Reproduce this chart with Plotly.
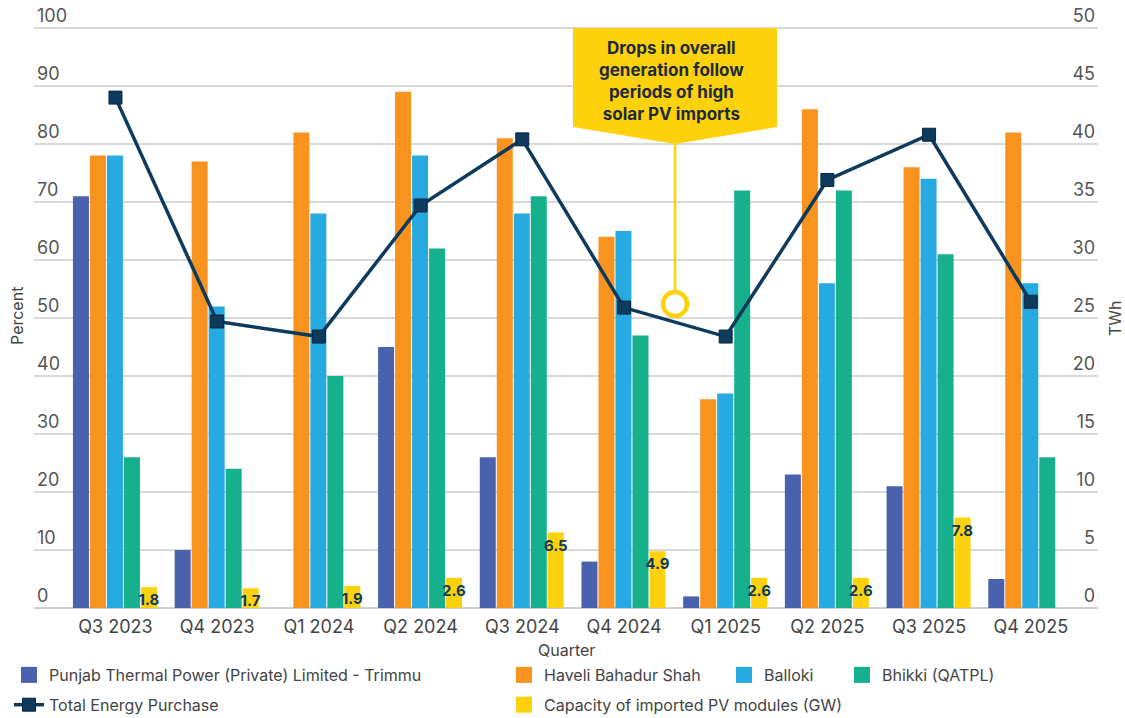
import plotly.graph_objects as go

quarters = ["Q3 2023", "Q4 2023", "Q1 2024", "Q2 2024", "Q3 2024",
            "Q4 2024", "Q1 2025", "Q2 2025", "Q3 2025", "Q4 2025"]
trimmu = [71, 10, 0, 45, 26, 8, 2, 23, 21, 5]
haveli = [78, 77, 82, 89, 81, 64, 36, 86, 76, 82]
balloki = [78, 52, 68, 78, 68, 65, 37, 56, 74, 56]
bhikki = [26, 24, 40, 62, 71, 47, 72, 72, 61, 26]
pv_capacity = [1.8, 1.7, 1.9, 2.6, 6.5, 4.9, 2.6, 2.6, 7.8, None]
total_energy = [44.0, 24.7, 23.4, 34.7, 40.4, 25.9, 23.4, 36.9, 40.8, 26.4]

names = ["Punjab Thermal Power (Private) Limited - Trimmu", "Haveli Bahadur Shah",
         "Balloki", "Bhikki (QATPL)"]
colors = ["#4a62ad", "#f7931e", "#27a9e1", "#17b08d"]
legends = ["legend", "legend2", "legend3", "legend4"]
YELLOW = "#fdd10b"
NAVY = "#0e3a5d"
PV_NAME = "Capacity of imported PV modules (GW)"

# pixel geometry: 0 at y=608, 100 at y=28, plot top at y=0
Y0, Y100 = 608, 28
ppu = (Y0 - Y100) / 100.0
T = 0
YMAX = (Y0 - T) / ppu
L, R, B = 34, 1098, Y0
W_PX, H_PX = R - L, B - T
def px(x):
    return (x - L) / W_PX
def py(y):
    return (B - y) / H_PX

cat_px = 101.7
bw = 16 / cat_px
pitch = 17 / cat_px
start = -42.5 / cat_px

fig = go.Figure()
for i, (vals, nm, col) in enumerate(zip([trimmu, haveli, balloki, bhikki], names, colors)):
    fig.add_trace(go.Bar(
        x=quarters, y=vals, name=nm, marker=dict(color=col, line=dict(width=0)),
        width=bw, offset=start + i * pitch, yaxis="y", showlegend=False,
    ))

fig.add_trace(go.Bar(
    x=quarters, y=pv_capacity, name=PV_NAME,
    marker=dict(color=YELLOW, line=dict(width=0)),
    width=bw, offset=start + 4 * pitch, yaxis="y2", showlegend=False,
    text=["" if v is None else f"{v}" for v in pv_capacity],
    textposition="inside", insidetextanchor="end", textangle=0,
    constraintext="none",
    insidetextfont=dict(family="Inter", size=15, color=NAVY, weight="bold"),
))

fig.add_trace(go.Scatter(
    x=quarters, y=total_energy, name="Total Energy Purchase", yaxis="y2",
    mode="lines+markers", line=dict(color=NAVY, width=3.5),
    marker=dict(symbol="square", size=13, color=NAVY, line=dict(color="#0a2740", width=1)),
    legend="legend", legendgroup="g6", legendrank=2,
))

# legend entries (square swatches like the reference)
for i, (nm, col, lg) in enumerate(zip(names, colors, legends)):
    fig.add_trace(go.Scatter(
        x=[None], y=[None], mode="markers", name=nm,
        marker=dict(symbol="square", size=18, color=col),
        legend=lg, legendgroup=f"g{i}", legendrank=1,
    ))
fig.add_trace(go.Scatter(
    x=[None], y=[None], mode="markers", name=PV_NAME,
    marker=dict(symbol="square", size=18, color=YELLOW),
    legend="legend2", legendgroup="g5", legendrank=2,
))

# callout
shapes = []
box = [(573, 28), (777, 28), (777, 127), (675, 144), (573, 127)]
path = "M " + " L ".join(f"{px(x):.5f},{py(y):.5f}" for x, y in box) + " Z"
shapes.append(dict(type="path", xref="paper", yref="paper", path=path,
                   fillcolor=YELLOW, line=dict(width=0), layer="above"))
shapes.append(dict(type="line", xref="paper", yref="paper",
                   x0=px(675), x1=px(675), y0=py(144), y1=py(291),
                   line=dict(color=YELLOW, width=2.5), layer="above"))
r = 12
shapes.append(dict(type="circle", xref="paper", yref="paper",
                   x0=px(675 - r), x1=px(675 + r), y0=py(304 + r), y1=py(304 - r),
                   fillcolor="white", line=dict(color=YELLOW, width=4.5), layer="above"))

annotations = [
    dict(text="Drops in overall<br>generation follow<br>periods of high<br>solar PV imports",
         xref="paper", yref="paper", x=px(671), y=py(81), showarrow=False,
         font=dict(family="Inter", size=17, color="#1e2b3c", weight="bold"),
         align="center", xanchor="center", yanchor="middle"),
    dict(text="Percent", xref="paper", yref="paper", x=px(17), y=py(316), textangle=-90,
         showarrow=False, font=dict(family="Inter", size=16, color="#444"),
         xanchor="center", yanchor="middle"),
    dict(text="TWh", xref="paper", yref="paper", x=px(1115), y=py(318), textangle=-90,
         showarrow=False, font=dict(family="Inter", size=16, color="#444"),
         xanchor="center", yanchor="middle"),
    dict(text="Quarter", xref="paper", yref="paper", x=0.5, y=py(650),
         showarrow=False, font=dict(family="Inter", size=16, color="#444"),
         xanchor="center", yanchor="middle"),
]

legfont = dict(family="Inter", size=16, color="#444")
def leg(xpx):
    return dict(x=px(xpx), y=py(658), xanchor="left", yanchor="top",
                orientation="v", bgcolor="rgba(0,0,0,0)", font=legfont,
                tracegroupgap=6, itemwidth=30)

fig.update_layout(
    width=1125, height=718,
    margin=dict(l=L, r=1125 - R, t=T, b=718 - B, autoexpand=False),
    paper_bgcolor="white", plot_bgcolor="white",
    barmode="overlay",
    font=dict(family="Inter", color="#444"),
    xaxis=dict(type="category", range=[-0.801, 9.661], showgrid=False,
               tickfont=dict(family="Inter", size=18, color="#444"),
               showline=False, ticks="", ticklabelstandoff=6),
    yaxis=dict(range=[0, YMAX], tickvals=list(range(0, 101, 10)), showgrid=True,
               gridcolor="#d9d9d9", gridwidth=1.5,
               zeroline=True, zerolinecolor="#cfcfcf", zerolinewidth=1.5,
               ticklabelposition="inside top",
               tickfont=dict(family="Inter", size=18, color="#555")),
    yaxis2=dict(range=[0, YMAX / 2], tickvals=list(range(0, 51, 5)), overlaying="y",
                side="right", showgrid=False,
                zeroline=False, ticklabelposition="inside top",
                tickfont=dict(family="Inter", size=18, color="#555")),
    legend=leg(9),
    legend2=leg(504),
    legend3=leg(724),
    legend4=leg(842),
    shapes=shapes,
    annotations=annotations,
    showlegend=True,
)

fig.write_html("out.html", config={"displayModeBar": False},
               post_script="document.body.style.margin='0';document.body.style.overflow='hidden';")
